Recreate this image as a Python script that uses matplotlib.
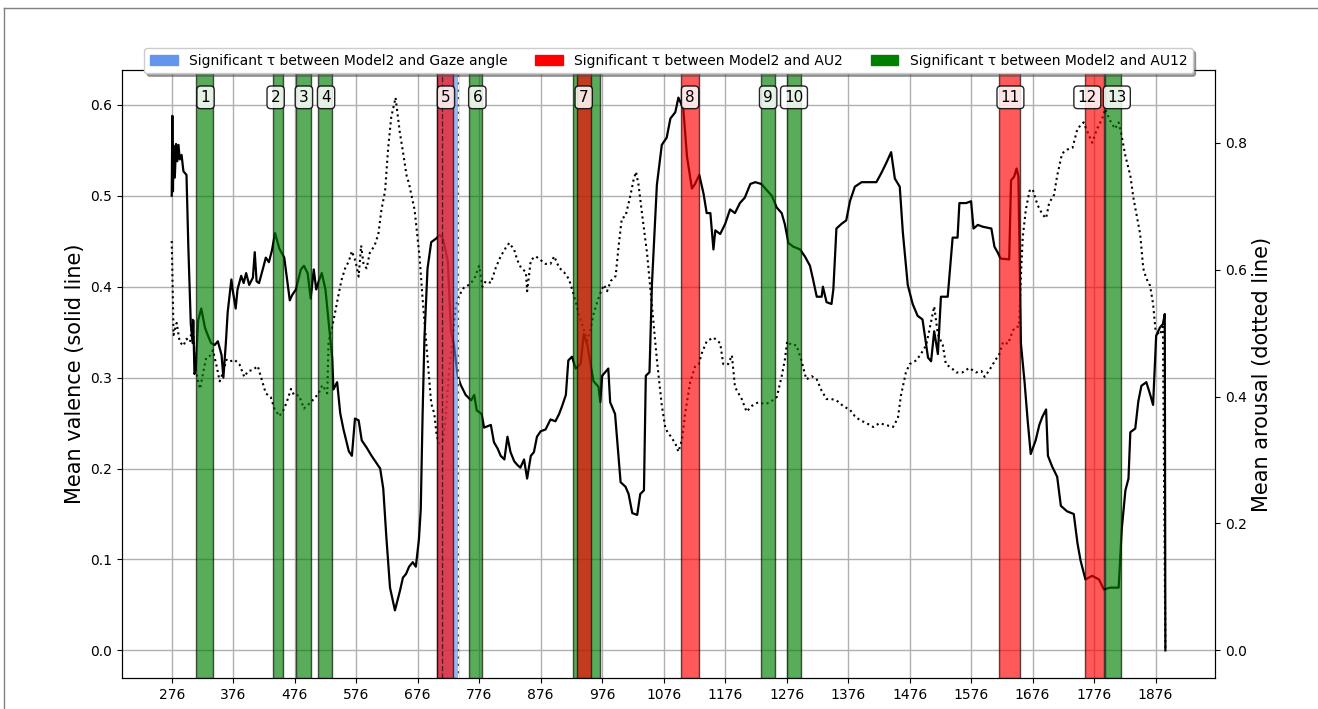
import numpy as np
import matplotlib
matplotlib.use("Agg")
import matplotlib.pyplot as plt
from matplotlib.patches import Patch
from matplotlib.lines import Line2D

# mean valence (solid line), frame -> value
val_frames = [276, 277, 278, 279, 281, 283, 285, 287, 289, 292, 295, 300, 303, 307, 310, 311, 313, 315,
              319, 324, 330, 335, 340, 346, 351, 357, 360, 364, 367, 373, 375, 380, 383, 389, 393, 397,
              402, 408, 411, 414, 418, 424, 429, 434, 439, 444, 451, 459, 464, 468, 472, 478, 486, 491,
              497, 502, 507, 511, 515, 520, 526, 531, 537, 539, 545, 550, 555, 564, 569, 574, 580, 585,
              593, 601, 615, 620, 625, 631, 639, 647, 652, 657, 662, 668, 673, 678, 681, 684, 687, 692,
              698, 706, 712, 717, 725, 730, 735, 741, 746, 754, 763, 768, 772, 780, 784, 795, 800, 806,
              811, 817, 822, 827, 833, 838, 843, 849, 854, 860, 865, 870, 876, 884, 892, 900, 906, 911,
              917, 921, 927, 933, 941, 946, 952, 957, 962, 970, 973, 976, 981, 986, 989, 997, 1000, 1006,
              1014, 1019, 1025, 1033, 1038, 1044, 1047, 1053, 1057, 1065, 1073, 1081, 1087, 1095, 1100,
              1108, 1114, 1122, 1127, 1134, 1141, 1146, 1152, 1157, 1160, 1168, 1176, 1184, 1192, 1200,
              1208, 1217, 1225, 1235, 1244, 1252, 1260, 1268, 1273, 1279, 1287, 1298, 1306, 1314, 1319,
              1325, 1333, 1335, 1341, 1349, 1352, 1357, 1365, 1373, 1379, 1387, 1398, 1408, 1422, 1430,
              1438, 1446, 1452, 1460, 1465, 1473, 1481, 1489, 1497, 1506, 1511, 1516, 1522, 1527, 1538,
              1546, 1554, 1557, 1568, 1576, 1580, 1587, 1595, 1609, 1614, 1619, 1624, 1638, 1641, 1646,
              1650, 1653, 1657, 1663, 1668, 1673, 1681, 1687, 1692, 1698, 1701, 1708, 1716, 1722, 1732,
              1743, 1749, 1754, 1762, 1773, 1784, 1792, 1802, 1816, 1821, 1827, 1832, 1835, 1843, 1848,
              1853, 1861, 1867, 1872, 1877, 1883, 1888, 1891, 1892]
valence = [0.500, 0.588, 0.505, 0.555, 0.520, 0.557, 0.538, 0.556, 0.540, 0.545, 0.527, 0.523, 0.444, 0.359,
           0.338, 0.363, 0.304, 0.308, 0.363, 0.376, 0.355, 0.346, 0.338, 0.336, 0.340, 0.325, 0.300, 0.338,
           0.372, 0.408, 0.397, 0.376, 0.397, 0.412, 0.404, 0.415, 0.402, 0.410, 0.438, 0.406, 0.404, 0.419,
           0.432, 0.427, 0.440, 0.459, 0.442, 0.432, 0.406, 0.385, 0.391, 0.397, 0.419, 0.423, 0.415, 0.387,
           0.419, 0.397, 0.406, 0.415, 0.397, 0.363, 0.321, 0.287, 0.295, 0.261, 0.244, 0.219, 0.214, 0.255,
           0.253, 0.231, 0.223, 0.214, 0.200, 0.178, 0.125, 0.069, 0.044, 0.065, 0.080, 0.084, 0.092, 0.097,
           0.092, 0.122, 0.155, 0.260, 0.344, 0.420, 0.449, 0.453, 0.457, 0.453, 0.428, 0.352, 0.336, 0.302,
           0.292, 0.281, 0.275, 0.281, 0.264, 0.260, 0.245, 0.248, 0.229, 0.222, 0.214, 0.210, 0.235, 0.218,
           0.208, 0.204, 0.201, 0.210, 0.189, 0.214, 0.218, 0.235, 0.241, 0.243, 0.254, 0.252, 0.260, 0.269,
           0.281, 0.319, 0.323, 0.310, 0.315, 0.348, 0.336, 0.315, 0.296, 0.290, 0.273, 0.302, 0.306, 0.310,
           0.273, 0.260, 0.235, 0.185, 0.180, 0.172, 0.151, 0.149, 0.172, 0.176, 0.302, 0.306, 0.403, 0.512,
           0.556, 0.564, 0.585, 0.592, 0.608, 0.596, 0.543, 0.508, 0.513, 0.523, 0.502, 0.481, 0.481, 0.441,
           0.462, 0.458, 0.469, 0.485, 0.481, 0.492, 0.498, 0.513, 0.515, 0.513, 0.506, 0.500, 0.487, 0.481,
           0.469, 0.448, 0.444, 0.441, 0.433, 0.423, 0.408, 0.389, 0.389, 0.400, 0.383, 0.381, 0.397, 0.464,
           0.469, 0.473, 0.494, 0.510, 0.515, 0.515, 0.515, 0.525, 0.536, 0.548, 0.519, 0.510, 0.460, 0.402,
           0.381, 0.368, 0.364, 0.322, 0.318, 0.351, 0.326, 0.389, 0.389, 0.454, 0.454, 0.492, 0.492, 0.494,
           0.464, 0.468, 0.466, 0.464, 0.444, 0.438, 0.431, 0.430, 0.517, 0.521, 0.530, 0.521, 0.338, 0.295,
           0.253, 0.216, 0.231, 0.248, 0.257, 0.265, 0.214, 0.202, 0.191, 0.159, 0.153, 0.150, 0.118, 0.099,
           0.078, 0.082, 0.078, 0.067, 0.069, 0.069, 0.133, 0.176, 0.189, 0.240, 0.244, 0.274, 0.291, 0.295,
           0.282, 0.270, 0.346, 0.355, 0.359, 0.370, 0.000]

# mean arousal (dotted line)
aro_frames = [276, 278, 279, 284, 289, 295, 300, 306, 310, 314, 319, 322, 327, 332, 338, 343, 349, 354, 359,
              365, 370, 378, 386, 394, 400, 408, 416, 421, 429, 437, 443, 451, 459, 464, 470, 475, 483, 491,
              499, 507, 515, 521, 529, 531, 537, 542, 547, 552, 558, 564, 569, 575, 580, 584, 588, 593, 598,
              606, 612, 617, 623, 628, 633, 640, 647, 652, 658, 662, 671, 679, 684, 690, 698, 703, 707, 711,
              717, 722, 727, 733, 738, 744, 752, 760, 768, 776, 781, 787, 795, 803, 811, 819, 825, 833, 838,
              844, 852, 854, 860, 868, 876, 884, 892, 898, 906, 914, 922, 930, 938, 946, 952, 957, 962, 968,
              973, 979, 984, 990, 998, 1003, 1008, 1014, 1022, 1027, 1031, 1035, 1041, 1049, 1057, 1065,
              1073, 1079, 1087, 1095, 1100, 1106, 1111, 1119, 1127, 1133, 1138, 1146, 1157, 1168, 1173,
              1181, 1187, 1192, 1203, 1211, 1219, 1230, 1241, 1249, 1260, 1268, 1273, 1277, 1284, 1292,
              1300, 1308, 1317, 1325, 1333, 1341, 1349, 1357, 1368, 1379, 1387, 1395, 1406, 1417, 1427,
              1438, 1449, 1457, 1462, 1470, 1476, 1487, 1495, 1503, 1508, 1516, 1522, 1530, 1535, 1544,
              1552, 1562, 1573, 1584, 1593, 1598, 1606, 1614, 1622, 1628, 1636, 1644, 1649, 1654, 1657,
              1660, 1665, 1671, 1676, 1684, 1692, 1698, 1703, 1711, 1716, 1724, 1732, 1741, 1749, 1759,
              1767, 1773, 1781, 1789, 1794, 1802, 1810, 1816, 1821, 1827, 1835, 1840, 1845, 1851, 1856,
              1861, 1867, 1872, 1876, 1883, 1888, 1892]
arousal = [0.645, 0.546, 0.497, 0.516, 0.486, 0.480, 0.491, 0.486, 0.521, 0.448, 0.424, 0.412, 0.437, 0.461,
           0.464, 0.473, 0.448, 0.424, 0.437, 0.458, 0.455, 0.458, 0.451, 0.431, 0.440, 0.442, 0.448, 0.431,
           0.405, 0.399, 0.381, 0.369, 0.381, 0.394, 0.412, 0.402, 0.402, 0.381, 0.388, 0.396, 0.405, 0.418,
           0.405, 0.486, 0.510, 0.534, 0.559, 0.583, 0.602, 0.613, 0.629, 0.613, 0.589, 0.638, 0.608, 0.602,
           0.626, 0.638, 0.656, 0.694, 0.724, 0.792, 0.840, 0.871, 0.816, 0.786, 0.748, 0.735, 0.694, 0.621,
           0.554, 0.483, 0.389, 0.373, 0.338, 0.326, 0.329, 0.373, 0.440, 0.494, 0.543, 0.560, 0.573, 0.576,
           0.585, 0.606, 0.573, 0.582, 0.579, 0.603, 0.621, 0.634, 0.642, 0.631, 0.615, 0.603, 0.596, 0.566,
           0.615, 0.621, 0.615, 0.609, 0.609, 0.621, 0.603, 0.596, 0.585, 0.560, 0.530, 0.506, 0.488, 0.506,
           0.530, 0.549, 0.563, 0.576, 0.566, 0.582, 0.590, 0.639, 0.681, 0.684, 0.717, 0.741, 0.754, 0.735,
           0.687, 0.626, 0.543, 0.458, 0.386, 0.349, 0.338, 0.326, 0.313, 0.332, 0.373, 0.422, 0.447, 0.451,
           0.468, 0.487, 0.493, 0.484, 0.451, 0.451, 0.465, 0.415, 0.396, 0.376, 0.385, 0.391, 0.388, 0.391,
           0.399, 0.432, 0.457, 0.487, 0.481, 0.481, 0.457, 0.427, 0.432, 0.427, 0.409, 0.396, 0.396, 0.394,
           0.385, 0.379, 0.369, 0.363, 0.358, 0.352, 0.358, 0.355, 0.352, 0.366, 0.402, 0.438, 0.451, 0.457,
           0.468, 0.481, 0.504, 0.542, 0.498, 0.481, 0.451, 0.445, 0.438, 0.438, 0.445, 0.438, 0.440, 0.431,
           0.442, 0.455, 0.467, 0.486, 0.483, 0.504, 0.510, 0.510, 0.589, 0.651, 0.694, 0.724, 0.727, 0.702,
           0.687, 0.681, 0.705, 0.718, 0.748, 0.783, 0.789, 0.792, 0.822, 0.832, 0.813, 0.800, 0.822, 0.837,
           0.853, 0.835, 0.822, 0.832, 0.810, 0.779, 0.748, 0.713, 0.687, 0.656, 0.602, 0.586, 0.575, 0.546,
           0.504, 0.497, 0.510, 0.000]

# significant windows: (start, end, kind)
band_starts = [316, 440, 478, 514, 708, 760, 929, 935, 1105, 1235, 1276, 1622, 1761, 1794]
band_ends = [343, 457, 503, 536, 733, 781, 973, 958, 1134, 1257, 1299, 1656, 1792, 1820]
band_kinds = ["AU12", "AU12", "AU12", "AU12", "AU2", "AU12", "AU12", "AU2", "AU2", "AU12", "AU12",
              "AU2", "AU2", "AU12"]
gaze_start, gaze_end = 708, 742
gaze_marks = [715, 741]

label_text = ["1", "2", "3", "4", "5", "6", "7", "8", "9", "10", "11", "12", "13"]
label_x = [331, 445, 491, 527, 722, 773, 946, 1119, 1246, 1288, 1640, 1765, 1813]

xtick_vals = list(range(276, 1877, 100))

kind_color = {"Gaze": "cornflowerblue", "AU2": "red", "AU12": "green"}

fig = plt.figure(figsize=(13.18, 7.09), dpi=100)
ax = fig.add_axes([0.0926, 0.0437, 0.8293, 0.8576])
ax2 = ax.twinx()

ax.plot(val_frames, valence, color="black", linewidth=1.6, zorder=2)
ax.grid(True, color="#b0b0b0", linewidth=1)
ax.set_xticks(xtick_vals)
ax.set_yticks([0.0, 0.1, 0.2, 0.3, 0.4, 0.5, 0.6])
ax.tick_params(labelsize=10)
ax.set_ylabel("Mean valence (solid line)", fontsize=15)

ax2.plot(aro_frames, arousal, color="black", linewidth=1.5, linestyle=":", zorder=2)
ax2.set_yticks([0.0, 0.2, 0.4, 0.6, 0.8])
ax2.tick_params(labelsize=10)
ax2.set_ylabel("Mean arousal (dotted line)", fontsize=15)

# windows drawn over both lines
ax2.axvspan(gaze_start, gaze_end, facecolor=kind_color["Gaze"], edgecolor="black",
            alpha=0.65, linewidth=1, zorder=3)
for s, e, k in zip(band_starts, band_ends, band_kinds):
    ax2.axvspan(s, e, facecolor=kind_color[k], edgecolor="black", alpha=0.65, linewidth=1, zorder=3)
ax2.axvline(gaze_marks[0], color="black", linestyle="--", linewidth=1, alpha=0.6, zorder=4)
ax2.axvline(gaze_marks[1], color="white", linestyle="--", linewidth=1, zorder=4)

for t, x in zip(label_text, label_x):
    ax2.text(x, 0.955, t, transform=ax2.get_xaxis_transform(), ha="center", va="center",
             fontsize=11, zorder=6,
             bbox=dict(boxstyle="round,pad=0.25", facecolor="white", edgecolor="black", alpha=0.85))

handles = [Patch(color=kind_color["Gaze"], label="Significant \u03c4 between Model2 and Gaze angle"),
           Patch(color=kind_color["AU2"], label="Significant \u03c4 between Model2 and AU2"),
           Patch(color=kind_color["AU12"], label="Significant \u03c4 between Model2 and AU12")]
leg = ax2.legend(handles=handles, loc="upper center", bbox_to_anchor=(0.5, 1.047), ncol=3,
                 fontsize=10, shadow=True, fancybox=True, framealpha=1)
leg.set_zorder(10)

# screenshot frame lines
fig.add_artist(Line2D([0.003, 1.0], [0.9887, 0.9887], color="gray", linewidth=1))
fig.add_artist(Line2D([0.003, 0.003], [0.0, 0.9887], color="gray", linewidth=1))

fig.savefig("out.png", dpi=100)
